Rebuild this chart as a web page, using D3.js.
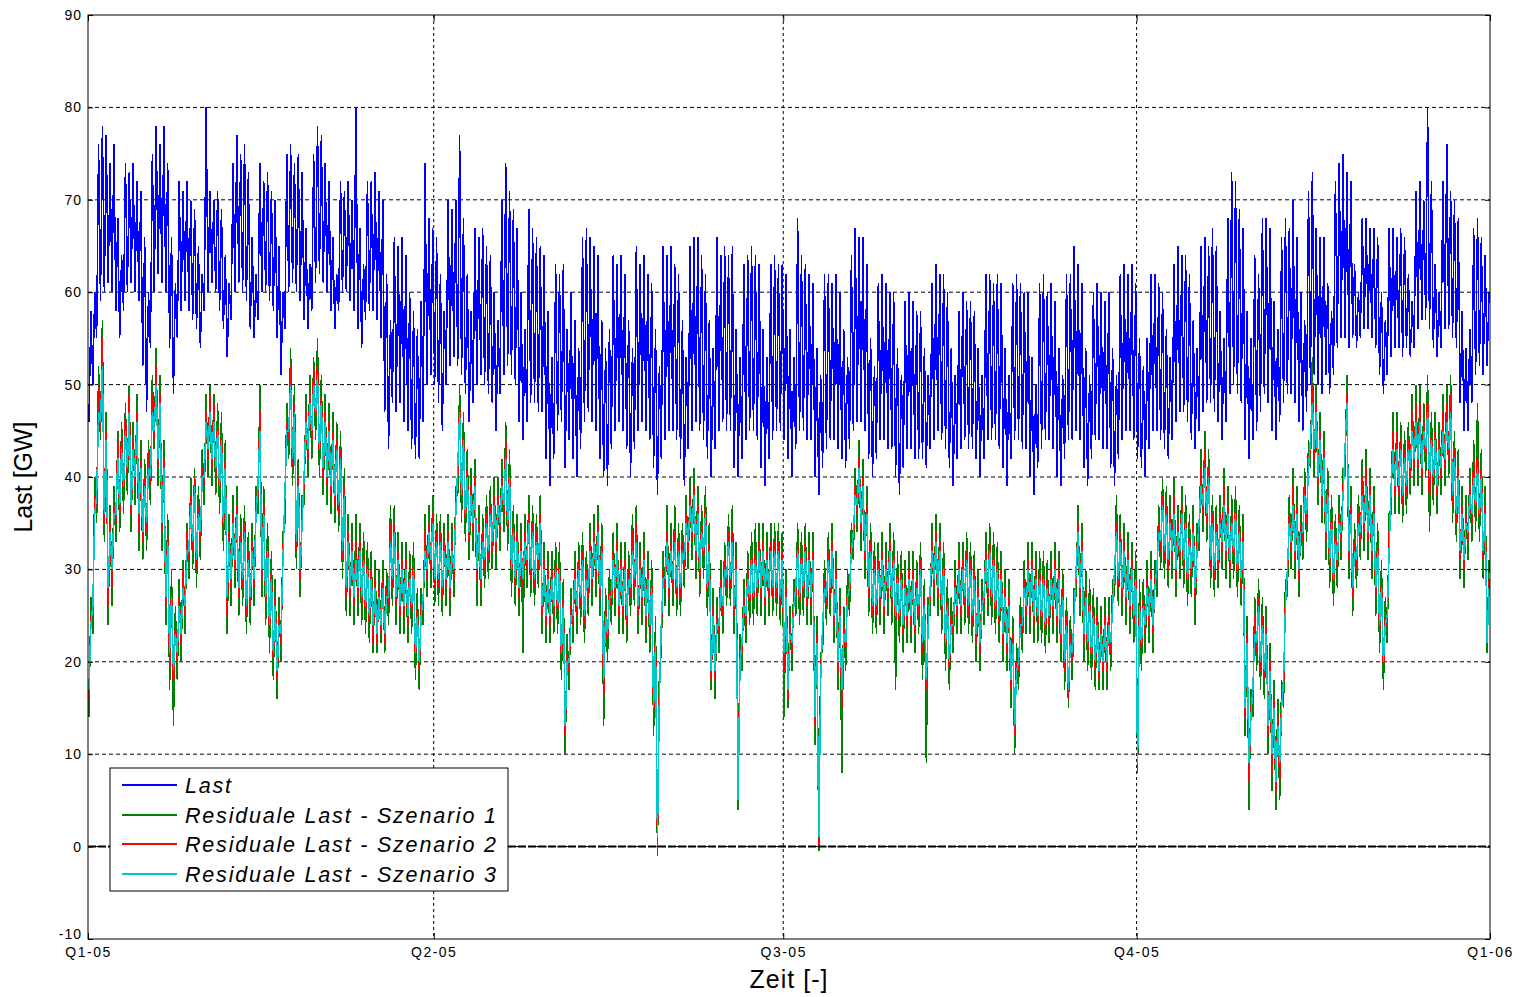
<!DOCTYPE html>
<html>
<head>
<meta charset="utf-8">
<script src="https://cdn.jsdelivr.net/npm/d3@7"></script>
<style>
  body { margin: 0; background: #fff; }
  svg { display: block; font-family: "Liberation Sans", Arial, sans-serif; }
  .grid line { stroke: #000; stroke-width: 1; stroke-dasharray: 4,3; }
  .tick text { fill: #000; }
  .serie { fill: none; shape-rendering: crispEdges; }
</style>
</head>
<body>
<div id="chart"></div>
<script>
// Stundenwerte zu grob: je Tag ein Nacht- und ein Tageswert (GW)
const lastWerte = [
  46,58, 50,60, 55,76, 59,78, 60,77, 61,74, 60,76,
  58,68, 55,64, 58,74, 60,73, 61,74, 60,72, 59,71,
  52,66, 47,60, 54,75, 60,78, 62,76, 61,78, 60,74,
  54,66, 49,61, 55,72, 58,71, 59,72, 58,70, 57,69,
  56,65, 54,62, 58,80, 60,71, 61,70, 60,71, 58,69,
  56,64, 53,61, 57,74, 60,77, 61,75, 60,76, 59,73,
  56,66, 55,62, 57,74, 60,72, 60,73, 59,71, 58,70,
  55,65, 51,60, 56,75, 60,76, 61,74, 60,75, 59,73,
  57,67, 56,63, 58,75, 61,78, 62,77, 61,74, 60,72,
  58,66, 56,62, 58,72, 60,71, 60,72, 59,70, 58,80,
  56,67, 54,63, 57,72, 58,72, 58,73, 57,71, 55,70,
  47,62, 43,57, 48,66, 47,65, 48,66, 46,64, 45,60,
  43,58, 42,56, 42,59, 46,74, 50,68, 51,67, 50,66,
  48,62, 45,58, 50,70, 52,69, 53,70, 52,77, 51,68,
  49,62, 46,58, 48,67, 50,66, 51,67, 50,65, 49,64,
  48,60, 45,57, 49,70, 51,74, 52,71, 51,69, 50,67,
  46,60, 44,56, 46,69, 48,67, 48,66, 47,65, 47,64,
  42,58, 39,53, 42,63, 45,62, 46,63, 41,56, 44,60,
  42,57, 40,54, 43,66, 46,67, 47,66, 46,65, 45,64,
  42,57, 40,54, 39,56, 43,64, 45,63, 46,64, 45,62,
  43,57, 40,54, 43,65, 45,63, 46,64, 45,62, 44,61,
  41,56, 38,52, 42,65, 44,64, 45,65, 45,63, 44,62,
  42,57, 39,53, 43,65, 45,66, 46,66, 45,64, 44,62,
  42,57, 40,54, 43,66, 45,64, 46,65, 45,64, 45,65,
  41,56, 40,53, 42,63, 44,64, 45,65, 45,64, 44,63,
  41,56, 39,53, 42,63, 44,64, 45,63, 45,63, 44,62,
  42,56, 40,53, 43,68, 45,64, 45,63, 44,62, 44,61,
  40,54, 38,51, 41,62, 43,62, 44,61, 44,62, 43,60,
  42,56, 41,53, 43,64, 45,67, 46,66, 46,66, 45,63,
  42,55, 40,52, 42,61, 44,62, 44,61, 43,60, 43,60,
  40,54, 38,51, 41,59, 43,60, 43,59, 42,58, 42,58,
  42,54, 41,51, 43,61, 44,63, 45,62, 44,62, 43,60,
  41,54, 39,51, 42,58, 43,60, 44,59, 43,59, 43,58,
  42,54, 40,51, 42,62, 44,62, 44,61, 44,62, 43,61,
  41,54, 39,51, 42,61, 44,62, 44,61, 43,60, 43,60,
  40,53, 38,50, 41,61, 43,62, 44,60, 44,61, 43,59,
  40,54, 39,51, 42,62, 44,62, 44,65, 45,63, 44,61,
  41,54, 39,51, 42,60, 44,61, 44,60, 43,59, 43,60,
  41,54, 39,51, 42,62, 44,63, 45,62, 45,63, 44,61,
  42,55, 41,52, 40,55, 43,62, 45,62, 45,61, 44,60,
  43,56, 42,53, 44,63, 46,65, 47,64, 47,64, 46,62,
  44,57, 43,54, 45,65, 47,66, 48,65, 48,67, 47,65,
  46,58, 44,55, 46,68, 49,73, 50,72, 49,69, 48,67,
  44,58, 42,55, 44,64, 45,62, 47,68, 49,68, 48,67,
  45,59, 44,56, 46,66, 48,68, 49,67, 49,70, 48,66,
  46,60, 45,57, 47,71, 50,73, 51,67, 50,66, 49,66,
  51,61, 49,58, 51,72, 54,74, 55,75, 55,73, 54,72,
  55,63, 54,60, 55,68, 56,68, 56,67, 55,67, 54,66,
  51,60, 49,57, 51,67, 53,67, 54,66, 54,67, 53,66,
  54,62, 53,59, 54,71, 56,72, 57,70, 57,80, 56,72,
  54,63, 53,60, 54,72, 56,76, 56,71, 55,70, 54,68,
  48,58, 45,54, 45,56, 48,67, 51,68, 52,66, 51,64,
  52,60
];

const szenario1 = [
  14,27, 23,40, 35,52, 44,57, 33,47, 24,37, 26,39,
  33,45, 34,46, 36,48, 38,50, 34,46, 37,49, 32,44,
  31,42, 32,44, 37,51, 43,54, 39,51, 32,44, 24,36,
  17,30, 13,26, 18,29, 20,31, 23,35, 29,40, 30,41,
  28,39, 31,43, 37,49, 40,50, 39,49, 38,48, 36,47,
  32,44, 23,36, 26,38, 28,39, 25,36, 26,37, 23,34,
  24,35, 26,39, 36,50, 27,39, 24,35, 21,32, 18,29,
  16,27, 20,34, 35,48, 42,54, 39,50, 30,42, 27,38,
  37,49, 40,51, 42,53, 44,55, 40,51, 38,49, 37,48,
  36,47, 35,46, 34,45, 29,41, 25,36, 25,35, 24,36,
  25,35, 24,34, 23,33, 22,32, 21,31, 21,30, 22,31,
  21,30, 24,37, 26,37, 24,34, 23,33, 23,33, 22,32,
  23,33, 18,28, 17,28, 24,36, 27,37, 28,38, 26,36,
  26,36, 25,35, 26,36, 25,35, 27,39, 38,50, 35,47,
  33,43, 31,41, 32,42, 26,37, 26,36, 28,38, 29,39,
  30,40, 30,40, 32,42, 34,46, 32,43, 27,37, 26,36,
  25,35, 21,36, 28,38, 27,37, 26,36, 28,38, 23,33,
  22,32, 22,32, 23,33, 23,33, 18,29, 10,23, 17,28,
  22,32, 23,33, 24,34, 22,32, 25,35, 26,36, 27,37,
  25,35, 13,28, 20,30, 24,34, 25,35, 23,33, 23,33,
  22,32, 25,36, 26,37, 23,33, 24,34, 22,32, 21,31,
  12,25, -1,19, 21,32, 26,37, 25,35, 26,37, 25,35,
  25,35, 28,38, 30,40, 31,41, 29,39, 27,37, 29,39,
  25,35, 17,28, 16,27, 21,31, 23,33, 26,36, 26,37,
  23,33, 4,23, 19,29, 22,32, 24,34, 24,35, 25,35,
  25,35, 24,34, 25,35, 25,35, 25,35, 24,34, 14,30,
  15,26, 19,29, 25,35, 24,34, 25,35, 24,34, 24,34,
  11,25, -0.5,21, 21,31, 24,34, 25,35, 22,32, 17,28,
  8,26, 19,30, 25,35, 31,41, 34,44, 32,42, 29,39,
  25,35, 23,33, 23,33, 24,34, 23,33, 25,35, 24,34,
  17,32, 22,32, 21,31, 22,32, 22,32, 21,31, 23,33,
  18,29, 9,27, 25,35, 26,36, 25,35, 23,33, 19,29,
  17,27, 21,31, 23,33, 23,33, 24,34, 23,33, 22,32,
  20,30, 19,29, 24,34, 25,35, 24,34, 23,33, 22,32,
  20,30, 19,29, 15,25, 10,22, 17,27, 21,31, 23,33,
  23,33, 22,32, 22,32, 22,32, 21,31, 22,32, 23,33,
  22,32, 20,30, 17,27, 15,25, 18,28, 27,37, 25,35,
  20,30, 19,29, 18,28, 17,27, 17,26, 17,27, 17,27,
  19,29, 27,38, 26,36, 25,35, 24,34, 23,33, 22,32,
  8,29, 19,29, 21,31, 22,32, 21,31, 27,37, 30,40,
  29,39, 28,38, 29,40, 27,37, 29,39, 28,38, 26,36,
  27,37, 24,35, 32,43, 34,45, 33,43, 28,38, 27,37,
  28,38, 30,41, 29,39, 28,38, 29,39, 27,37, 26,36,
  12,25, 4,17, 14,27, 19,29, 17,27, 16,26, 10,22,
  6,18, 4,16, 5,18, 15,29, 27,38, 30,41, 29,39,
  27,37, 31,41, 33,44, 41,53, 40,50, 37,47, 35,45,
  31,41, 28,38, 26,36, 28,38, 31,41, 40,51, 29,39,
  25,35, 28,38, 31,42, 32,43, 31,41, 29,39, 25,35,
  21,31, 17,27, 22,36, 36,47, 36,47, 36,46, 35,45,
  36,46, 38,49, 39,50, 39,50, 38,48, 40,51, 34,47,
  37,47, 36,46, 38,49, 39,50, 40,51, 35,45, 33,43,
  29,39, 28,38, 31,41, 33,44, 34,48, 33,43, 29,39,
  21,31
];

const szenario2 = [
  16,25, 25,38, 37,50, 45,55, 35,45, 26,35, 28,37,
  35,44, 36,45, 38,47, 40,49, 36,44, 39,47, 34,42,
  33,40, 34,43, 39,49, 44,52, 41,49, 34,42, 26,34,
  19,28, 17,24, 20,27, 22,30, 25,34, 31,38, 32,40,
  30,37, 33,41, 39,47, 42,49, 41,48, 40,46, 38,45,
  34,42, 25,34, 28,36, 30,37, 27,34, 28,35, 25,32,
  26,33, 28,37, 38,47, 29,37, 26,33, 23,30, 20,27,
  18,25, 22,32, 37,46, 44,52, 41,48, 32,40, 29,36,
  39,47, 42,49, 44,52, 46,53, 42,49, 40,47, 39,46,
  38,45, 37,44, 36,43, 31,39, 27,34, 27,33, 26,33,
  27,33, 26,32, 25,31, 24,30, 22,29, 22,28, 23,29,
  22,28, 26,35, 28,35, 26,32, 25,31, 25,31, 24,30,
  25,31, 20,26, 19,26, 26,34, 29,35, 30,36, 28,34,
  28,34, 27,33, 28,34, 27,33, 29,37, 40,48, 37,45,
  35,41, 33,39, 34,40, 29,35, 28,34, 30,36, 31,37,
  32,38, 32,38, 34,40, 36,44, 34,41, 29,35, 28,34,
  27,33, 28,34, 30,36, 29,35, 28,34, 30,36, 25,31,
  24,30, 24,30, 25,31, 25,31, 20,27, 12,21, 19,26,
  24,30, 25,31, 26,32, 24,30, 27,33, 28,34, 29,35,
  27,33, 16,26, 22,28, 26,32, 27,33, 25,31, 25,31,
  24,30, 27,34, 28,35, 25,31, 26,32, 24,30, 23,29,
  14,23, 0,17, 23,30, 28,34, 27,33, 28,34, 27,33,
  27,33, 30,36, 32,38, 33,39, 31,37, 29,35, 31,37,
  27,33, 18,26, 18,25, 23,29, 25,31, 28,34, 28,34,
  25,31, 5,21, 21,27, 24,30, 26,32, 26,32, 27,33,
  27,33, 26,32, 27,33, 27,33, 27,33, 26,32, 19,28,
  16,24, 21,27, 27,33, 26,32, 27,33, 26,32, 26,32,
  13,23, 0,19, 23,29, 26,32, 27,33, 24,30, 19,26,
  15,24, 21,28, 27,33, 33,39, 36,42, 34,40, 31,37,
  27,33, 25,31, 25,31, 26,32, 25,31, 27,33, 26,32,
  24,30, 24,30, 23,29, 24,30, 24,30, 23,29, 25,31,
  21,27, 17,25, 27,33, 28,34, 27,33, 25,31, 21,27,
  19,25, 23,29, 25,31, 25,31, 26,32, 25,31, 24,30,
  22,28, 21,27, 26,32, 27,33, 26,32, 25,31, 24,30,
  22,28, 21,27, 17,23, 12,20, 19,25, 23,29, 25,31,
  25,31, 24,30, 24,30, 24,30, 23,29, 24,30, 25,31,
  24,30, 22,28, 19,25, 16,23, 20,26, 29,35, 27,33,
  22,28, 21,27, 20,26, 19,25, 18,24, 19,25, 19,25,
  21,27, 29,35, 28,34, 27,33, 26,32, 25,31, 24,30,
  9,27, 21,27, 23,29, 24,30, 23,29, 29,35, 32,38,
  31,37, 30,36, 31,38, 29,35, 31,37, 30,36, 28,34,
  29,35, 27,33, 34,41, 36,43, 35,41, 30,36, 29,35,
  30,36, 32,39, 31,37, 30,36, 31,37, 29,35, 28,34,
  14,23, 7,15, 16,25, 21,27, 19,25, 18,24, 12,20,
  8,16, 6,14, 7,16, 17,27, 29,36, 32,39, 31,37,
  29,35, 33,39, 35,42, 43,50, 42,48, 39,45, 37,43,
  33,39, 30,36, 28,34, 30,36, 33,39, 42,49, 31,37,
  27,33, 30,36, 33,40, 34,41, 33,39, 31,37, 27,33,
  23,29, 19,25, 24,34, 38,45, 38,45, 38,44, 37,43,
  38,44, 40,47, 41,48, 41,48, 40,46, 42,49, 37,45,
  39,45, 38,44, 40,47, 41,48, 42,49, 37,43, 35,41,
  31,37, 30,36, 33,39, 35,42, 36,43, 35,41, 31,37,
  22,29
];

const szenario3 = [
  17,24, 26,36, 38,47, 46,52, 36,44, 28,34, 30,36,
  36,42, 37,43, 39,45, 41,47, 37,43, 40,46, 36,41,
  34,39, 35,41, 40,47, 45,50, 42,48, 35,41, 27,33,
  21,27, 19,23, 21,26, 23,28, 26,32, 32,37, 33,39,
  31,36, 34,40, 40,46, 43,47, 42,46, 41,45, 39,44,
  35,41, 27,33, 29,35, 31,36, 28,33, 29,34, 26,31,
  27,32, 29,36, 39,45, 30,36, 27,32, 24,29, 21,26,
  19,24, 23,31, 38,45, 45,50, 42,47, 33,39, 30,35,
  40,46, 43,48, 45,50, 47,51, 43,48, 41,46, 40,45,
  39,44, 38,43, 37,42, 32,38, 28,33, 28,32, 27,31,
  28,32, 27,31, 26,30, 25,29, 24,28, 23,27, 24,28,
  23,27, 27,33, 29,34, 27,31, 26,30, 26,30, 25,29,
  26,30, 21,25, 20,25, 27,32, 30,34, 31,35, 29,33,
  29,33, 28,32, 29,33, 28,32, 30,36, 41,47, 38,44,
  36,40, 34,38, 35,39, 30,34, 29,33, 31,35, 32,36,
  33,37, 33,37, 35,39, 37,42, 35,40, 30,34, 29,33,
  28,32, 29,33, 31,35, 30,34, 29,33, 31,35, 26,30,
  25,29, 25,29, 26,30, 26,30, 21,26, 13,20, 20,25,
  25,29, 26,30, 27,31, 25,29, 28,32, 29,33, 30,34,
  28,32, 18,25, 23,27, 27,31, 28,32, 26,30, 26,30,
  25,29, 28,32, 29,33, 26,30, 27,31, 25,29, 24,28,
  15,22, 1,16, 24,29, 29,33, 28,32, 29,33, 28,32,
  28,32, 31,35, 33,37, 34,38, 32,36, 30,34, 32,36,
  28,32, 19,25, 19,24, 24,28, 26,30, 29,33, 29,33,
  26,30, 5,20, 22,26, 25,29, 27,31, 27,31, 28,32,
  28,32, 27,31, 28,32, 28,32, 28,32, 27,31, 21,27,
  17,23, 22,26, 28,32, 27,31, 28,32, 27,31, 27,31,
  14,22, 1,18, 24,28, 27,31, 28,32, 25,29, 20,25,
  17,23, 22,27, 28,32, 34,38, 37,41, 35,39, 32,36,
  28,32, 26,30, 26,30, 27,31, 26,30, 28,32, 27,31,
  25,29, 25,29, 24,28, 25,29, 25,29, 24,28, 26,30,
  22,26, 18,24, 28,32, 29,33, 28,32, 26,30, 22,26,
  20,24, 24,28, 26,30, 26,30, 27,31, 26,30, 25,29,
  23,27, 22,26, 27,31, 28,32, 27,31, 26,30, 25,29,
  23,27, 22,26, 18,22, 13,19, 20,24, 24,28, 26,30,
  26,30, 25,29, 25,29, 25,29, 24,28, 25,29, 26,30,
  25,29, 23,27, 20,24, 17,22, 21,25, 30,34, 28,32,
  23,27, 22,26, 21,25, 20,24, 19,23, 20,24, 20,24,
  22,26, 30,34, 29,33, 28,32, 27,31, 26,30, 25,29,
  9,26, 22,26, 24,28, 25,29, 24,28, 30,34, 33,37,
  32,36, 31,35, 32,36, 30,34, 32,36, 31,35, 29,33,
  30,34, 28,32, 35,39, 37,41, 36,40, 31,35, 30,34,
  31,35, 33,37, 32,36, 31,35, 32,36, 30,34, 29,33,
  15,22, 9,14, 17,23, 22,26, 20,24, 19,23, 13,19,
  10,15, 7,13, 9,15, 18,26, 30,35, 33,37, 32,36,
  30,34, 34,38, 36,41, 44,48, 43,47, 40,44, 38,42,
  34,38, 31,35, 29,33, 31,35, 34,38, 43,48, 32,36,
  28,32, 31,35, 34,38, 35,39, 34,38, 32,36, 28,32,
  24,28, 20,24, 25,32, 39,43, 39,43, 39,43, 38,42,
  39,43, 41,45, 42,46, 42,46, 41,45, 43,47, 40,44,
  40,44, 39,43, 41,45, 42,46, 43,47, 38,42, 36,40,
  32,36, 31,35, 34,38, 36,40, 37,41, 36,40, 32,36,
  22,28
];

const quartalTage = [0, 90, 181, 273, 365];
const quartalLabels = ["Q1-05", "Q2-05", "Q3-05", "Q4-05", "Q1-06"];
const yTicks = [-10, 0, 10, 20, 30, 40, 50, 60, 70, 80, 90];
const legendNamen = ["Last", "Residuale Last - Szenario 1", "Residuale Last - Szenario 2", "Residuale Last - Szenario 3"];
const farben = ["#0000ff", "#008000", "#ff0000", "#00c8c8"];

var margin = { top: 15, right: 31, bottom: 58, left: 88 },
  width = 1521 - margin.left - margin.right,
  height = 997 - margin.top - margin.bottom;

var svg = d3
  .select("#chart")
  .append("svg")
  .attr("width", 1521)
  .attr("height", 997)
  .append("g")
  .attr("transform", "translate(" + margin.left + "," + margin.top + ")");

var x = d3.scaleLinear().domain([0, 365]).range([0, width]);
var y = d3.scaleLinear().domain([-10, 90]).range([height, 0]);

// grid
svg
  .append("g")
  .attr("class", "grid")
  .selectAll("line.h")
  .data(yTicks.filter(d => d > -10 && d < 90))
  .enter()
  .append("line")
  .attr("x1", 0)
  .attr("x2", width)
  .attr("y1", d => y(d))
  .attr("y2", d => y(d));
svg
  .append("g")
  .attr("class", "grid")
  .selectAll("line.v")
  .data(quartalTage.slice(1, -1))
  .enter()
  .append("line")
  .attr("x1", d => x(d))
  .attr("x2", d => x(d))
  .attr("y1", 0)
  .attr("y2", height)
  .style("stroke-dasharray", "3,3");

// two values per day: night, day
var zeit = i => i / 2 + 0.25;
var linie = d3.line().x((d, i) => x(zeit(i))).y(d => y(d));

svg.append("path").datum(lastWerte).attr("d", linie)
  .attr("class", "serie").attr("stroke", farben[0]).attr("stroke-width", 1.5);
[szenario1, szenario2, szenario3].forEach(function(s, k) {
  svg.append("path").datum(s).attr("d", linie)
    .attr("class", "serie").attr("stroke", farben[k + 1]).attr("stroke-width", 1.5);
});

// zero line
svg.append("line")
  .attr("x1", 0).attr("x2", width)
  .attr("y1", y(0)).attr("y2", y(0))
  .attr("stroke", "#000").attr("stroke-width", 2)
  .attr("stroke-dasharray", "8,2");

// inner ticks
svg.append("g").call(d3.axisLeft(y).tickValues(yTicks).tickSize(-5).tickFormat(""))
  .call(g => g.select(".domain").remove());
svg.append("g").attr("transform", "translate(" + width + ",0)")
  .call(d3.axisRight(y).tickValues(yTicks).tickSize(-5).tickFormat(""))
  .call(g => g.select(".domain").remove());
svg.append("g").attr("transform", "translate(0," + height + ")")
  .call(d3.axisBottom(x).tickValues(quartalTage).tickSize(-6).tickFormat(""))
  .call(g => g.select(".domain").remove());
svg.append("g")
  .call(d3.axisTop(x).tickValues(quartalTage).tickSize(-6).tickFormat(""))
  .call(g => g.select(".domain").remove());

// tick labels
svg.append("g")
  .call(d3.axisLeft(y).tickValues(yTicks).tickSize(0).tickPadding(6).tickFormat(d => String(d)))
  .call(g => g.select(".domain").remove())
  .selectAll("text")
  .style("font-size", "14px")
  .style("letter-spacing", "1px")
  .attr("dy", d => d === -10 ? "-0.05em" : "0.32em");
svg.append("g")
  .attr("transform", "translate(0," + height + ")")
  .call(d3.axisBottom(x).tickValues(quartalTage).tickSize(0).tickPadding(8)
    .tickFormat((d, i) => quartalLabels[i]))
  .call(g => g.select(".domain").remove())
  .selectAll("text")
  .style("font-size", "14px")
  .style("letter-spacing", "1.5px");

// box
svg.append("rect")
  .attr("width", width).attr("height", height)
  .attr("fill", "none").attr("stroke", "#000").attr("stroke-width", 1);

// axis titles
svg.append("text")
  .attr("transform", "rotate(-90)")
  .attr("x", -y(40))
  .attr("y", -56)
  .attr("text-anchor", "middle")
  .style("font-size", "25px")
  .text("Last [GW]");
svg.append("text")
  .attr("x", width / 2)
  .attr("y", height + 49)
  .attr("text-anchor", "middle")
  .style("font-size", "25px")
  .style("letter-spacing", "1px")
  .text("Zeit [-]");

// legend
var legend = svg.append("g").attr("transform", "translate(22,753)");
legend.append("rect")
  .attr("width", 398).attr("height", 123)
  .attr("fill", "#fff").attr("stroke", "#000").attr("stroke-width", 1);
legendNamen.forEach(function(name, i) {
  var ly = Math.round(17 + i * 29.5);
  legend.append("line")
    .attr("x1", 12).attr("x2", 67).attr("y1", ly).attr("y2", ly)
    .attr("stroke", farben[i]).attr("stroke-width", 1.5)
    .style("shape-rendering", "crispEdges");
  legend.append("text")
    .attr("x", 75).attr("y", ly + 7.5)
    .style("font-size", "21.5px")
    .style("font-style", "italic")
    .style("letter-spacing", "1.8px")
    .text(name);
});
</script>
</body>
</html>
